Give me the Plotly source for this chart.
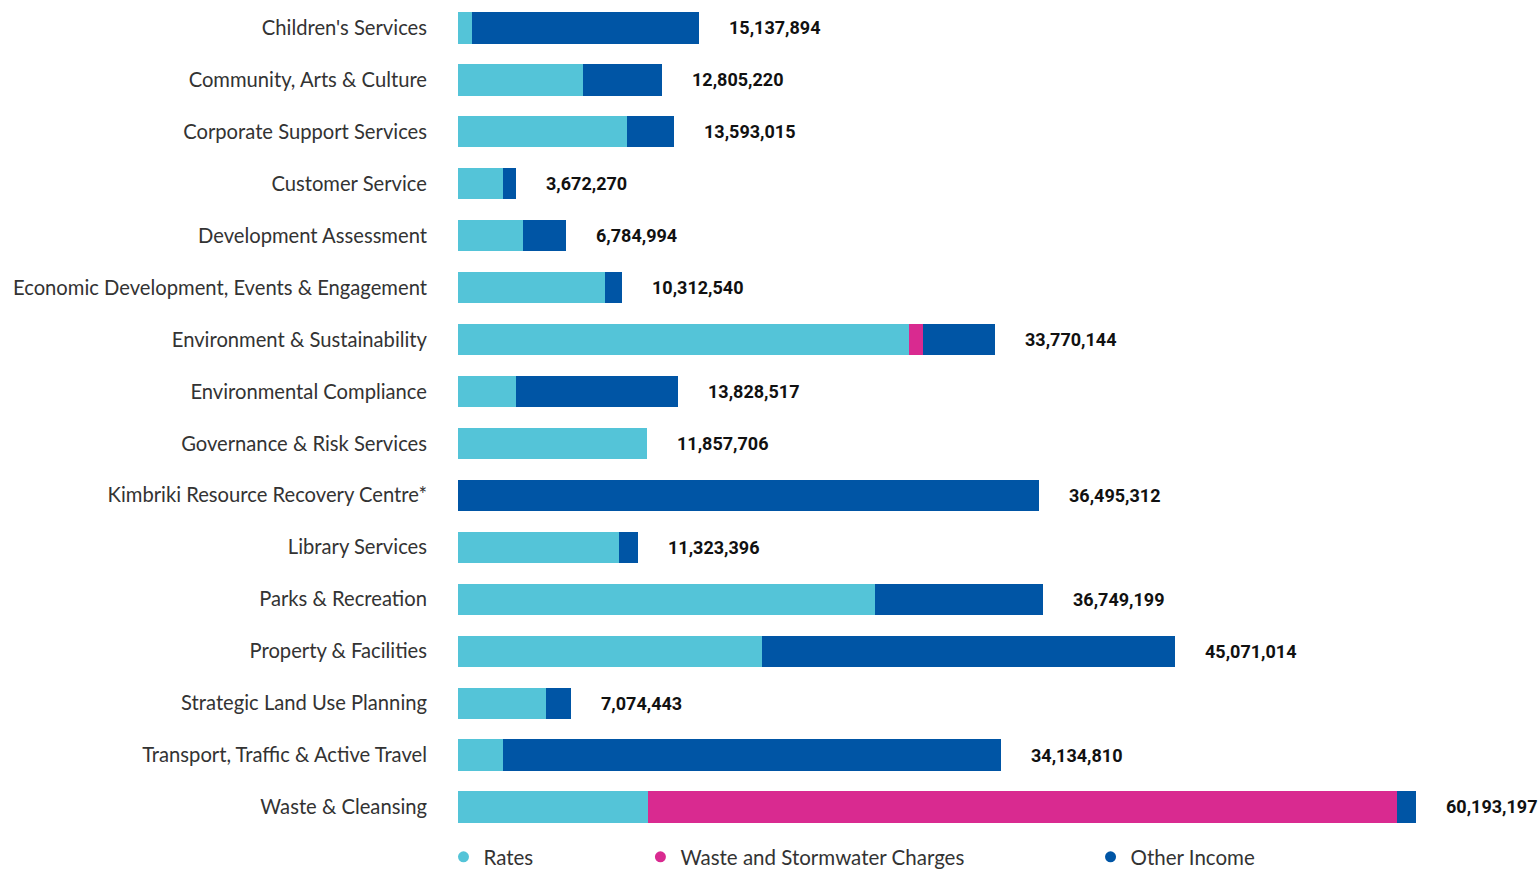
import plotly.graph_objects as go

categories = [
    "Children's Services",
    "Community, Arts & Culture",
    "Corporate Support Services",
    "Customer Service",
    "Development Assessment",
    "Economic Development, Events & Engagement",
    "Environment & Sustainability",
    "Environmental Compliance",
    "Governance & Risk Services",
    "Kimbriki Resource Recovery Centre*",
    "Library Services",
    "Parks & Recreation",
    "Property & Facilities",
    "Strategic Land Use Planning",
    "Transport, Traffic & Active Travel",
    "Waste & Cleansing",
]

totals = [15137894, 12805220, 13593015, 3672270, 6784994, 10312540, 33770144,
          13828517, 11857706, 36495312, 11323396, 36749199, 45071014, 7074443,
          34134810, 60193197]

rates = [880000, 7850000, 10620000, 2830000, 4080000, 9240000, 28340000,
         3640000, 11857706, 0, 10120000, 26200000, 19100000, 5530000,
         2830000, 11940000]

waste_charges = [0, 0, 0, 0, 0, 0, 880000, 0, 0, 0, 0, 0, 0, 0, 0, 47060000]

other_income = [t - r - w for t, r, w in zip(totals, rates, waste_charges)]

series_names = ["Rates", "Waste and Stormwater Charges", "Other Income"]
colors = ["#54C4D8", "#D92A90", "#0055A5"]

fig = go.Figure()
for name, vals, col in zip(series_names, [rates, waste_charges, other_income], colors):
    fig.add_trace(go.Bar(y=categories, x=vals, orientation="h", name=name,
                         marker=dict(color=col, line=dict(width=0)),
                         showlegend=False, hoverinfo="x+y"))

legend_ids = ["legend", "legend2", "legend3"]
legend_x = [-0.0134, 0.1686, 0.5846]
for name, col, lid in zip(series_names, colors, legend_ids):
    fig.add_trace(go.Scatter(x=[None], y=[None], mode="markers", name=name,
                             marker=dict(color=col, size=11, symbol="circle"),
                             legend=lid, showlegend=True))

for cat, tot in zip(categories, totals):
    fig.add_annotation(x=tot, y=cat, xref="x", yref="y", text=f"{tot:,}",
                       showarrow=False, xanchor="left", xshift=28,
                       font=dict(family="Roboto", size=18, color="#111111", weight="bold"))

leg_common = dict(orientation="h", yref="container", y=1 - 857 / 870, yanchor="middle",
                  xanchor="left",
                  font=dict(family="Lato", size=20.5, color="#333333"),
                  bgcolor="rgba(0,0,0,0)", itemwidth=30)

fig.update_layout(
    width=1540, height=870,
    margin=dict(l=458, r=0, t=0, b=40),
    barmode="stack", bargap=0.4,
    plot_bgcolor="white", paper_bgcolor="white",
    xaxis=dict(range=[0, 60193197 * 1082 / 958], visible=False, fixedrange=True),
    yaxis=dict(range=[15.444, -0.539], showgrid=False, showline=False, ticks="",
               automargin=False, ticklabelstandoff=30, fixedrange=True,
               tickfont=dict(family="Lato", size=20.2, color="#333333")),
    legend=dict(x=legend_x[0], **leg_common),
    legend2=dict(x=legend_x[1], **leg_common),
    legend3=dict(x=legend_x[2], **leg_common),
)

fig.write_html("out.html", config={"displayModeBar": False},
               post_script="document.body.style.margin='0';document.body.style.overflow='hidden';")
